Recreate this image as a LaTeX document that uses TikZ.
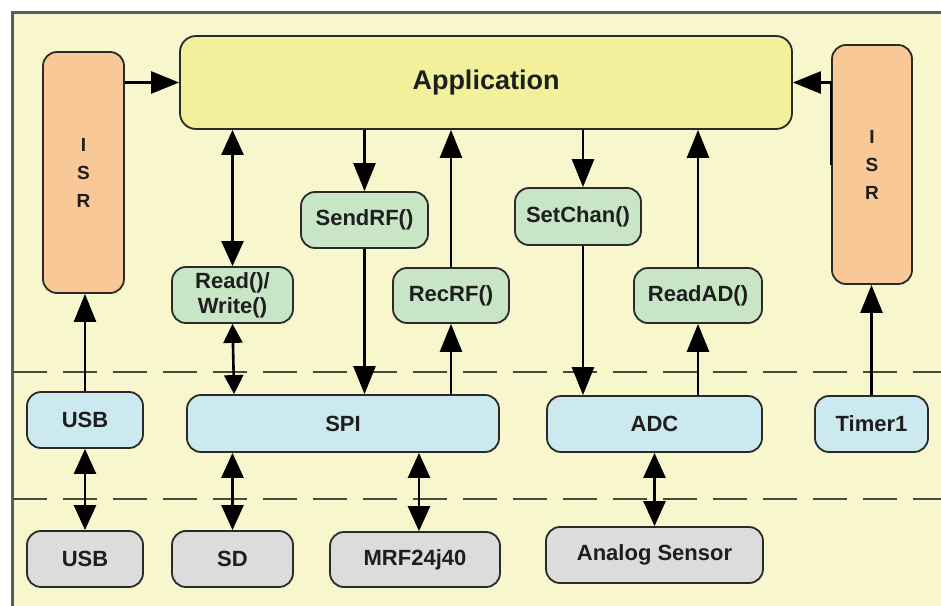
\documentclass[tikz,border=0pt]{standalone}
\usepackage{fontspec}
\setmainfont{Liberation Sans}
\usetikzlibrary{arrows.meta,calc}
\definecolor{bgyellow}{HTML}{F8F6CC}
\definecolor{appyellow}{HTML}{F2F09A}
\definecolor{isrpeach}{HTML}{F8C896}
\definecolor{fgreen}{HTML}{C8E6C6}
\definecolor{fblue}{HTML}{CCE9F0}
\definecolor{fgray}{HTML}{DCDCDC}
\definecolor{bordc}{HTML}{2A2A2A}
\definecolor{framec}{HTML}{5C5C5C}
\definecolor{dashc}{HTML}{4A4A3A}
\definecolor{txt}{HTML}{1E1E1E}
\begin{document}
\begin{tikzpicture}[x=1pt,y=-1pt,
  box/.style={draw=bordc,line width=1.8pt,rounded corners=14pt,inner sep=0pt,
    text=txt,font=\fontsize{22}{25}\selectfont\bfseries,align=center},
  appbox/.style={box,fill=appyellow,rounded corners=16pt,font=\fontsize{27}{30}\selectfont\bfseries},
  isrbox/.style={box,fill=isrpeach,font=\fontsize{19}{28}\selectfont\bfseries},
  fnbox/.style={box,fill=fgreen},
  hwbox/.style={box,fill=fblue},
  devbox/.style={box,fill=fgray},
  conn/.style={line width=2.6pt,draw=black},
  tip/.style={-{Triangle[length=28pt,width=22pt]}},
  dtip/.style={{Triangle[length=25pt,width=22pt]}-{Triangle[length=25pt,width=22pt]}},
  stip/.style={{Triangle[length=19pt,width=19pt]}-{Triangle[length=19pt,width=19pt]}},
  layer/.style={draw=dashc,line width=2pt,dash pattern=on 34pt off 16pt}
]
\useasboundingbox (0,0) rectangle (941,605);
\clip (0,0) rectangle (941,605);
\fill[white] (0,0) rectangle (941,605);
\draw[draw=framec,fill=bgyellow,line width=3pt] (12,12) rectangle (960,620);

% layer separators
\draw[layer] (13,372) -- (941,372);
\draw[layer] (13,499) -- (941,499);

% nodes
\node[appbox,minimum width=612pt,minimum height=93pt] (app) at (486,82.5) {Application};
\node[isrbox,minimum width=81pt,minimum height=241pt] (isrL) at (83.5,172.5) {I\\S\\R};
\node[isrbox,minimum width=80pt,minimum height=239pt] (isrR) at (872,164.5) {I\\S\\R};

\node[fnbox,minimum width=121pt,minimum height=56pt] (rw) at (232.5,295) {Read()/\\Write()};
\node[fnbox,minimum width=127pt,minimum height=56pt] (send) at (364.5,220) {SendRF()};
\node[fnbox,minimum width=116pt,minimum height=55pt] (rec) at (451,295.5) {RecRF()};
\node[fnbox,minimum width=126pt,minimum height=57pt] (setc) at (578,216.5) {SetChan()};
\node[fnbox,minimum width=128pt,minimum height=55pt] (readad) at (698,295.5) {ReadAD()};

\node[hwbox,minimum width=116pt,minimum height=56pt] (usbB) at (85,420) {USB};
\node[hwbox,minimum width=312pt,minimum height=57pt] (spi) at (343,423.5) {SPI};
\node[hwbox,minimum width=215pt,minimum height=56pt] (adc) at (654.5,424) {ADC};
\node[hwbox,minimum width=113pt,minimum height=56pt] (timer) at (871.5,424) {Timer1};

\node[devbox,minimum width=116pt,minimum height=56pt] (usbG) at (85,559) {USB};
\node[devbox,minimum width=121pt,minimum height=56pt] (sd) at (232.5,559) {SD};
\node[devbox,minimum width=170pt,minimum height=55pt] (mrf) at (415,559.5) {MRF24j40};
\node[devbox,minimum width=217pt,minimum height=56pt] (analog) at (654.5,555) {Analog Sensor};

% connectors
\draw[conn,tip] (isrL.east |- app.west) -- (app.west);
\draw[conn,tip] ([yshift=-0.5pt]isrR.west) |- (app.east);

\draw[conn,dtip] (app.south -| rw.north) -- (rw.north);
\draw[conn,stip] (rw.south) -- ([xshift=48pt]spi.north west);

\draw[conn,tip] (app.south -| send.north) -- (send.north);
\draw[conn,tip] (send.south) -- (send.south |- spi.north);

\draw[conn,tip] (spi.north -| rec.south) -- (rec.south);
\draw[conn,tip] (rec.north) -- (rec.north |- app.south);

\draw[conn,tip] ([xshift=5pt]setc.north |- app.south) -- ([xshift=5pt]setc.north);
\draw[conn,tip] ([xshift=5pt]setc.south) -- ([xshift=5pt]setc.south |- adc.north);

\draw[conn,tip] (adc.north -| readad.south) -- (readad.south);
\draw[conn,tip] (readad.north) -- (readad.north |- app.south);

\draw[conn,tip] (usbB.north) -- (usbB.north |- isrL.south);
\draw[conn,tip] (timer.north) -- (timer.north |- isrR.south);

\draw[conn,dtip] (usbB.south) -- (usbG.north);
\draw[conn,dtip] (spi.south -| sd.north) -- (sd.north);
\draw[conn,dtip] ([xshift=4pt]spi.south -| mrf.north) -- ([xshift=4pt]mrf.north);
\draw[conn,dtip] (adc.south) -- (analog.north);
\end{tikzpicture}
\end{document}
